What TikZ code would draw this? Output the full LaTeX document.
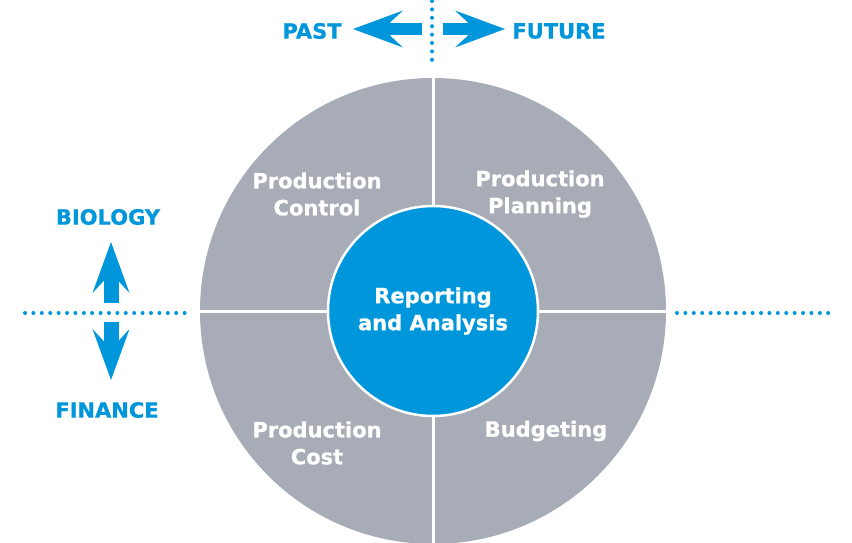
\documentclass[tikz,border=0pt]{standalone}
\usepackage{fontspec}
\setmainfont{DejaVu Sans}[BoldFeatures={FakeBold=0.8}]
\usetikzlibrary{arrows.meta}
\definecolor{pblue}{RGB}{0,150,219}
\definecolor{pgrey}{RGB}{167,172,182}

\begin{document}
\begin{tikzpicture}[x=1pt, y=-1pt,
    seglabel/.style={text=white, align=center, font=\bfseries\fontsize{21}{27}\selectfont},
    axislabel/.style={text=pblue, font=\bfseries\fontsize{21}{24}\selectfont},
    hbigarrow/.style={pblue, line width=12pt, -{Stealth[length=50pt, width=37pt, inset=20pt, line width=0pt]}},
    vbigarrow/.style={pblue, line width=15pt, -{Stealth[length=51pt, width=37pt, inset=20pt, line width=0pt]}},
    dotline/.style={pblue, line width=4pt, line cap=round, dash pattern=on 0pt off 8.4pt},
    divider/.style={white, line width=3pt}]
    \useasboundingbox (0,0) rectangle (852,543);

    % Wheel
    \node[circle, fill=pgrey, minimum size=466pt, inner sep=0pt] (wheel) at (433,311) {};
    \draw[divider] (wheel.north) -- (wheel.south);
    \draw[divider] (wheel.west) -- (wheel.east);
    \node[circle, fill=pblue, draw=white, line width=2.5pt, minimum size=210pt, inner sep=0pt,
          seglabel] (core) at (433,311) {Reporting\\and Analysis};

    % Segment labels
    \node[seglabel] (control) at (317,194) {Production\\Control};
    \node[seglabel] (planning) at (540,194) {Production\\Planning};
    \node[seglabel] (cost) at (317,443) {Production\\Cost};
    \node[seglabel] (budget) at (546,431) {Budgeting};

    % Dotted axes
    \coordinate (vtop) at (432,1);
    \coordinate (vbot) at (432,68);
    \coordinate (lstart) at (25,313);
    \coordinate (lend) at (185,313);
    \coordinate (rstart) at (677,313);
    \coordinate (rend) at (836,313);
    \draw[dotline] (vtop) -- (vbot);
    \draw[dotline] (lstart) -- (lend);
    \draw[dotline] (rstart) -- (rend);

    % Time and domain arrows
    \node[axislabel] (past) at (312,31) {PAST};
    \node[axislabel] (future) at (559,31) {FUTURE};
    \node[axislabel] (biology) at (108,217) {BIOLOGY};
    \node[axislabel] (finance) at (107,410) {FINANCE};
    \coordinate (pastfrom) at (422,29);
    \coordinate (pastto) at (353,29);
    \coordinate (futfrom) at (443,29);
    \coordinate (futto) at (505,29);
    \coordinate (biofrom) at (111,303);
    \coordinate (bioto) at (111,242);
    \coordinate (finfrom) at (111,322);
    \coordinate (finto) at (111,380);
    \draw[hbigarrow] (pastfrom) -- (pastto);
    \draw[hbigarrow] (futfrom) -- (futto);
    \draw[vbigarrow] (biofrom) -- (bioto);
    \draw[vbigarrow] (finfrom) -- (finto);
\end{tikzpicture}
\end{document}
